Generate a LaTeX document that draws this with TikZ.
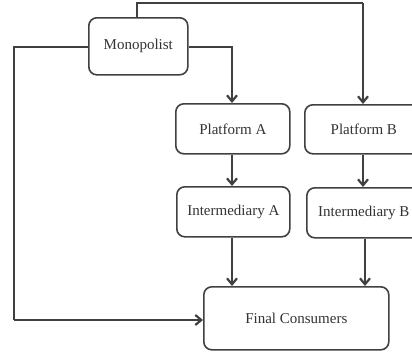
\documentclass[tikz,border=0pt]{standalone}
\usepackage{fontspec}
\setmainfont{Liberation Serif}
\usetikzlibrary{arrows.meta}
\definecolor{ln}{HTML}{404040}
\definecolor{tx}{HTML}{333333}
\tikzset{
  box/.style={draw=ln, line width=1.6pt, rounded corners=8pt, fill=white, text=tx,
    font=\fontsize{15}{17}\selectfont, inner sep=0pt, anchor=north west},
  conn/.style={draw=ln, line width=2.2pt, -{Straight Barb[length=6pt,width=10pt,line width=2.2pt]}},
  plain/.style={draw=ln, line width=2.2pt}
}
\begin{document}
\begin{tikzpicture}[x=1pt,y=-1pt]
\useasboundingbox (0,0) rectangle (412,354);
\begin{scope}
\clip (0,0) rectangle (412,354);
\node[box, minimum width=99pt, minimum height=57pt] (mono) at (88,17) {Monopolist};
\node[box, minimum width=114pt, minimum height=50pt] (pa) at (175,103) {Platform A};
\node[box, minimum width=118pt, minimum height=49pt] (pb) at (304,104) {Platform B};
\node[box, minimum width=113pt, minimum height=50pt] (ia) at (176,186) {Intermediary A};
\node[box, minimum width=114pt, minimum height=50pt] (ib) at (306,187) {Intermediary B};
\node[box, minimum width=185pt, minimum height=63pt] (fc) at (203,286) {Final Consumers};
\coordinate (t1) at (137,3);
\coordinate (t2) at (363,3);
\coordinate (r1) at (232,47);
\coordinate (l1) at (14,47);
\coordinate (l2) at (14,320);
\draw[plain] (mono.north -| t1) -- (t1) -- (t2);
\draw[conn] (t2) -- (t2 |- pb.north);
\draw[conn] (mono.east |- r1) -- (r1) -- (r1 |- pa.north);
\draw[plain] (mono.west |- l1) -- (l1) -- (l2);
\draw[conn] (l2) -- (fc.west |- l2);
\draw[conn] (pa.south -| r1) -- (ia.north -| r1);
\draw[conn] (pb.south -| t2) -- (ib.north -| t2);
\draw[conn] (ia.south -| r1) -- (fc.north -| r1);
\coordinate (b1) at (365,0);
\draw[conn] (ib.south -| b1) -- (fc.north -| b1);
\end{scope}
\end{tikzpicture}
\end{document}
